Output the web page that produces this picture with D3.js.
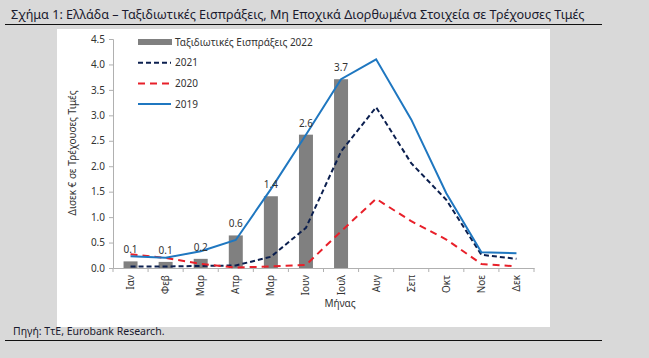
<!DOCTYPE html>
<html><head><meta charset="utf-8">
<script src="https://cdn.jsdelivr.net/npm/d3@7"></script>
<style>
body{margin:0;background:#d9d9d9;}
svg{display:block;font-family:"Noto Sans",sans-serif;}
</style></head>
<body><svg id="c" width="649" height="358"></svg>
<script>
const months = ["Ιαν","Φεβ","Μαρ","Απρ","Μαρ","Ιουν","Ιουλ","Αυγ","Σεπ","Οκτ","Νοε","Δεκ"];
const receipts2022 = [0.13,0.12,0.18,0.64,1.41,2.62,3.71,null,null,null,null,null];
const receiptsLabels = ["0.1","0.1","0.2","0.6","1.4","2.6","3.7"];
const s2021 = [0.03,0.03,0.04,0.05,0.22,0.79,2.29,3.16,2.06,1.34,0.26,0.18];
const s2020 = [0.27,0.20,0.08,0.01,0.03,0.06,0.72,1.36,0.92,0.56,0.08,0.03];
const s2019 = [0.23,0.20,0.33,0.55,1.55,2.62,3.71,4.10,2.92,1.47,0.31,0.29];
const yTicks = [0,0.5,1,1.5,2,2.5,3,3.5,4,4.5];
const titleText = "Σχήμα 1: Ελλάδα – Ταξιδιωτικές Εισπράξεις, Μη Εποχικά Διορθωμένα Στοιχεία σε Τρέχουσες Τιμές";
const sourceText = "Πηγή: ΤτΕ, Eurobank Research.";
const legendItems = [
  {name:"Ταξιδιωτικές Εισπράξεις 2022", type:"bar"},
  {name:"2021", type:"line", color:"#0b1f4f", dash:"5,3", w:2},
  {name:"2020", type:"line", color:"#e8202a", dash:"7,5", w:2},
  {name:"2019", type:"line", color:"#1f77c0", dash:null, w:2}
];

const svg = d3.select("#c");
// white chart panel
svg.append("rect").attr("x",57).attr("y",29).attr("width",493).attr("height",298).attr("fill","#fff");

// title
const t = svg.append("text").attr("x",11).attr("y",19).attr("fill","#1a1a2e").attr("font-size",13).text(titleText);
let tw = t.node().getComputedTextLength();
t.attr("font-size", 13*574/tw);
svg.append("line").attr("x1",5).attr("x2",602).attr("y1",24.5).attr("y2",24.5).attr("stroke","#111").attr("stroke-width",1.2);

// source
svg.append("text").attr("x",13).attr("y",335).attr("fill","#1a1a2e").attr("font-size",10.5).text(sourceText);
svg.append("line").attr("x1",5).attr("x2",602).attr("y1",340.5).attr("y2",340.5).attr("stroke","#111").attr("stroke-width",1.2);

const x = d3.scaleBand().domain(d3.range(12)).range([113,534]);
const y = d3.scaleLinear().domain([0,4.5]).range([268,39]);
const axisColor = "#b0b0b0";

// y axis
const ya = svg.append("g").attr("transform","translate(113,0)")
  .call(d3.axisLeft(y).tickValues(yTicks).tickFormat(d3.format(".1f")).tickSize(4).tickPadding(4));
ya.select(".domain").attr("stroke",axisColor);
ya.selectAll(".tick line").attr("stroke",axisColor);
ya.selectAll("text").attr("font-size",10).attr("fill","#333").attr("font-family","Noto Sans, sans-serif");

// x axis
const xa = svg.append("g").attr("transform","translate(0,268)")
  .call(d3.axisBottom(x).tickFormat(i=>months[i]).tickSize(0).tickPadding(6));
xa.select(".domain").attr("stroke",axisColor);
xa.selectAll("text").attr("font-size",10).attr("fill","#333").attr("font-family","Noto Sans, sans-serif")
  .attr("transform","rotate(-90)").attr("text-anchor","end").attr("dy","0.35em").attr("y",0).attr("x",-7);
// boundary ticks
svg.append("g").selectAll("line").data(d3.range(13)).join("line")
  .attr("x1",i=>113+i*x.step()).attr("x2",i=>113+i*x.step())
  .attr("y1",268).attr("y2",272).attr("stroke",axisColor);

// axis titles
svg.append("text").attr("x",340).attr("y",307).attr("text-anchor","middle").attr("font-size",10).attr("fill","#333").text("Μήνας");
svg.append("text").attr("transform","translate(76,153) rotate(-90)").attr("text-anchor","middle").attr("font-size",10).attr("fill","#333").text("Δισεκ € σε Τρέχουσες Τιμές");

// bars
const bw = 14;
const barData = receipts2022.map((v,i)=>({v,i})).filter(d=>d.v!=null);
svg.append("g").selectAll("rect").data(barData).join("rect")
  .attr("x",d=>x(d.i)+x.bandwidth()/2-bw/2).attr("width",bw)
  .attr("y",d=>y(d.v)).attr("height",d=>y(0)-y(d.v)).attr("fill","#808080");

// lines
const line = d3.line().x((d,i)=>x(i)+x.bandwidth()/2).y(d=>y(d));
[["2021",s2021],["2020",s2020],["2019",s2019]].forEach(([n,arr])=>{
  const it = legendItems.find(l=>l.name===n);
  svg.append("path").datum(arr).attr("d",line).attr("fill","none")
    .attr("stroke",it.color).attr("stroke-width",it.w)
    .attr("stroke-dasharray",it.dash);
});

// bar labels
svg.append("g").selectAll("text").data(barData).join("text")
  .attr("x",d=>x(d.i)+x.bandwidth()/2).attr("y",d=>y(d.v)-8)
  .attr("text-anchor","middle").attr("font-size",10).attr("fill","#333")
  .text(d=>receiptsLabels[d.i]);

// legend
const lg = svg.append("g");
legendItems.forEach((it,k)=>{
  const cy = 42 + k*20.7;
  if(it.type==="bar"){
    lg.append("rect").attr("x",138).attr("y",cy-3).attr("width",34).attr("height",6).attr("fill","#808080");
  } else {
    lg.append("line").attr("x1",138).attr("x2",171).attr("y1",cy).attr("y2",cy)
      .attr("stroke",it.color).attr("stroke-width",it.w).attr("stroke-dasharray",it.dash);
  }
  lg.append("text").attr("x",175).attr("y",cy).attr("dy","0.35em").attr("font-size",10).attr("fill","#333").text(it.name);
});
</script></body></html>
